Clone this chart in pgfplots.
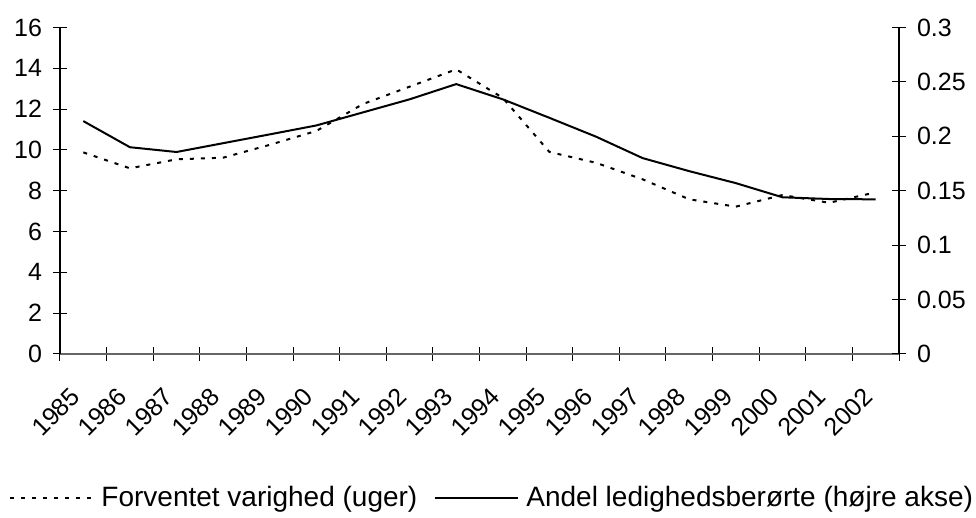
\documentclass[border=0pt]{standalone}
\usepackage{pgfplots}
\pgfplotsset{compat=1.18}
\usepackage{fontspec}
\setmainfont{Liberation Sans}
\begin{document}
\begin{tikzpicture}
\pgfplotsset{
  every axis/.append style={
    scale only axis, width=419.5pt, height=163.25pt,
    xmin=-0.5, xmax=17.5,
    font=\fontsize{12.5}{15}\selectfont,
    /pgf/number format/assume math mode=true,
    tick align=center,
    major tick length=7pt, minor tick length=7pt,
    tick style={black, line width=0.5pt},
  }
}
\begin{axis}[
  axis x line*=bottom, axis y line*=left,
  x axis line style={draw=black!60, line width=0.8pt},
  y axis line style={line width=0.6pt},
  ymin=0, ymax=16, ytick={0,2,...,16},
  xtick={0,...,17},
  xticklabels={1985,1986,1987,1988,1989,1990,1991,1992,1993,1994,1995,1996,1997,1998,1999,2000,2001,2002},
  major x tick style={draw=none},
  minor xtick={-0.5,0.5,...,17.5},
  xticklabel style={rotate=45, anchor=east, inner sep=1pt, xshift=-12.65pt, yshift=-8.35pt},
  yticklabel style={xshift=-2pt},
]
\addplot[black, line width=1pt, dash pattern=on 2pt off 3.5pt] coordinates {
(0,9.88) (1,9.10) (2,9.54) (3,9.62) (4,10.25) (5,10.93) (6,12.25) (7,13.1) (8,13.95)
(9,12.55) (10,9.9) (11,9.37) (12,8.56) (13,7.58) (14,7.22) (15,7.79) (16,7.41) (17,7.92)};
\end{axis}
\begin{axis}[
  axis x line=none, axis y line*=right,
  y axis line style={line width=0.6pt},
  ymin=0, ymax=0.3, ytick={0,0.05,0.1,0.15,0.2,0.25,0.3},
  yticklabels={0,0.05,0.1,0.15,0.2,0.25,0.3},
  yticklabel style={xshift=2pt},
  legend style={at={(0.514,-0.441)}, anchor=center, draw=none, fill=none,
    inner sep=0pt,
    legend columns=2,
    /tikz/every odd column/.append style={column sep=3.5pt},
    /tikz/every even column/.append style={column sep=8.5pt},
    nodes={inner sep=0pt},
    font=\fontsize{14}{17}\selectfont},
  legend image code/.code={\draw[#1] (0pt,0pt) -- (41.5pt,0pt);},
]
\addlegendimage{black, line width=1pt, dash pattern=on 2pt off 3.5pt}
\addlegendentry{Forventet varighed (uger)}
\addplot[black, line width=1pt] coordinates {
(0,0.214) (1,0.190) (2,0.1856) (3,0.1937) (4,0.2018) (5,0.2100) (6,0.222) (7,0.234) (8,0.248)
(9,0.234) (10,0.2170) (11,0.1997) (12,0.1800) (13,0.1680) (14,0.1570) (15,0.1440) (16,0.1424) (17,0.1421)};
\addlegendentry{Andel ledighedsberørte (højre akse)}
\end{axis}
\pgfresetboundingbox
\path (-30pt,-82pt) rectangle (458pt,177pt);
\end{tikzpicture}
\end{document}
